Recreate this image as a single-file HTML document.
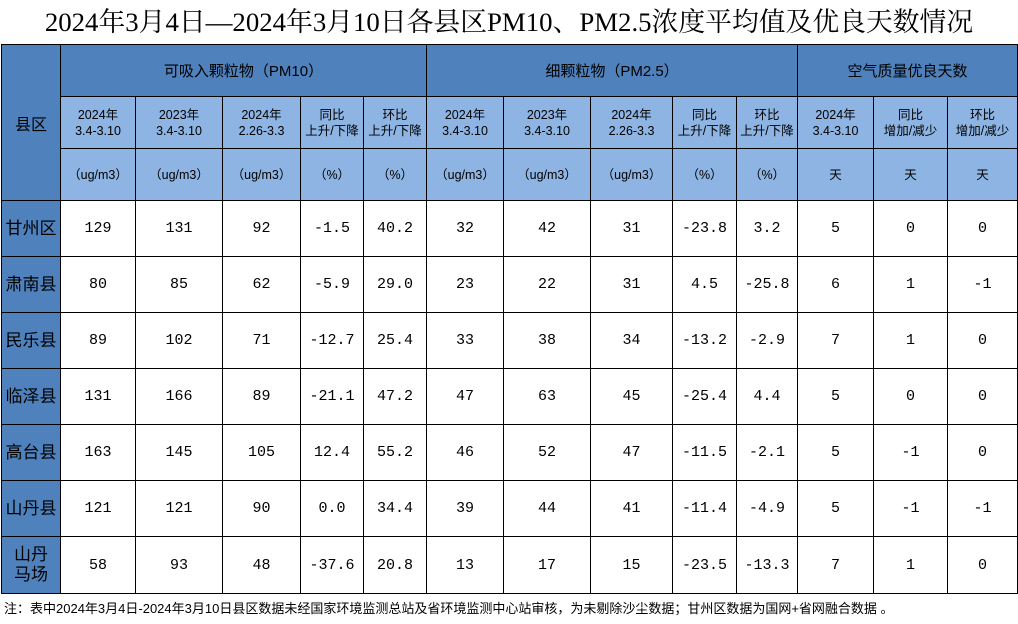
<!DOCTYPE html>
<html><head><meta charset="utf-8"><style>
body{margin:0;width:1018px;height:624px;background:#fff;position:relative;overflow:hidden;font-family:"Liberation Sans","Noto Sans CJK SC",sans-serif}
.title{position:absolute;left:0;top:4px;width:1018px;text-align:center;font-family:"Liberation Serif","Noto Serif CJK SC",serif;font-size:26.8px;line-height:36px;color:#000}
table{position:absolute;left:1px;top:44px;border-collapse:collapse;table-layout:fixed}
td{border:1.5px solid #000;text-align:center;padding:0;color:#000}
.h1{background:#4f81bd;font-size:15px}
.h2{background:#8db4e2;font-size:12.5px;line-height:16px}
.d td{font-family:"Liberation Mono","Noto Sans CJK SC",monospace;font-size:15px;height:55px}
.d td.c{background:#4f81bd;font-family:"Liberation Sans","Noto Sans CJK SC",sans-serif;font-size:17px;line-height:20px}
.note{position:absolute;left:4px;top:598px;font-size:13px;color:#000;white-space:nowrap}
</style></head><body>
<div class="title">2024年3月4日—2024年3月10日各县区PM10、PM2.5浓度平均值及优良天数情况</div>
<table>
<colgroup><col style="width:59px"><col style="width:75px"><col style="width:87px"><col style="width:78px"><col style="width:63px"><col style="width:63px"><col style="width:77px"><col style="width:87px"><col style="width:82px"><col style="width:64px"><col style="width:61px"><col style="width:76px"><col style="width:74px"><col style="width:70px"></colgroup>
<tr class="h1" style="height:52px"><td rowspan="3" style="font-size:16px">县区</td><td colspan="5">可吸入颗粒物（PM10）</td><td colspan="5">细颗粒物（PM2.5）</td><td colspan="3">空气质量优良天数</td></tr>
<tr class="h2" style="height:52px"><td>2024年<br>3.4-3.10</td><td>2023年<br>3.4-3.10</td><td>2024年<br>2.26-3.3</td><td>同比<br>上升/下降</td><td>环比<br>上升/下降</td><td>2024年<br>3.4-3.10</td><td>2023年<br>3.4-3.10</td><td>2024年<br>2.26-3.3</td><td>同比<br>上升/下降</td><td>环比<br>上升/下降</td><td>2024年<br>3.4-3.10</td><td>同比<br>增加/减少</td><td>环比<br>增加/减少</td></tr>
<tr class="h2" style="height:52px"><td>（ug/m3）</td><td>（ug/m3）</td><td>（ug/m3）</td><td>（%）</td><td>（%）</td><td>（ug/m3）</td><td>（ug/m3）</td><td>（ug/m3）</td><td>（%）</td><td>（%）</td><td>天</td><td>天</td><td>天</td></tr>
<tr class="d"><td class="c">甘州区</td><td>129</td><td>131</td><td>92</td><td>-1.5</td><td>40.2</td><td>32</td><td>42</td><td>31</td><td>-23.8</td><td>3.2</td><td>5</td><td>0</td><td>0</td></tr>
<tr class="d"><td class="c">肃南县</td><td>80</td><td>85</td><td>62</td><td>-5.9</td><td>29.0</td><td>23</td><td>22</td><td>31</td><td>4.5</td><td>-25.8</td><td>6</td><td>1</td><td>-1</td></tr>
<tr class="d"><td class="c">民乐县</td><td>89</td><td>102</td><td>71</td><td>-12.7</td><td>25.4</td><td>33</td><td>38</td><td>34</td><td>-13.2</td><td>-2.9</td><td>7</td><td>1</td><td>0</td></tr>
<tr class="d"><td class="c">临泽县</td><td>131</td><td>166</td><td>89</td><td>-21.1</td><td>47.2</td><td>47</td><td>63</td><td>45</td><td>-25.4</td><td>4.4</td><td>5</td><td>0</td><td>0</td></tr>
<tr class="d"><td class="c">高台县</td><td>163</td><td>145</td><td>105</td><td>12.4</td><td>55.2</td><td>46</td><td>52</td><td>47</td><td>-11.5</td><td>-2.1</td><td>5</td><td>-1</td><td>0</td></tr>
<tr class="d"><td class="c">山丹县</td><td>121</td><td>121</td><td>90</td><td>0.0</td><td>34.4</td><td>39</td><td>44</td><td>41</td><td>-11.4</td><td>-4.9</td><td>5</td><td>-1</td><td>-1</td></tr>
<tr class="d"><td class="c" style="height:56px">山丹<br>马场</td><td>58</td><td>93</td><td>48</td><td>-37.6</td><td>20.8</td><td>13</td><td>17</td><td>15</td><td>-23.5</td><td>-13.3</td><td>7</td><td>1</td><td>0</td></tr>
</table>
<div class="note">注：表中2024年3月4日-2024年3月10日县区数据未经国家环境监测总站及省环境监测中心站审核，为未剔除沙尘数据；甘州区数据为国网+省网融合数据 。</div>
</body></html>
